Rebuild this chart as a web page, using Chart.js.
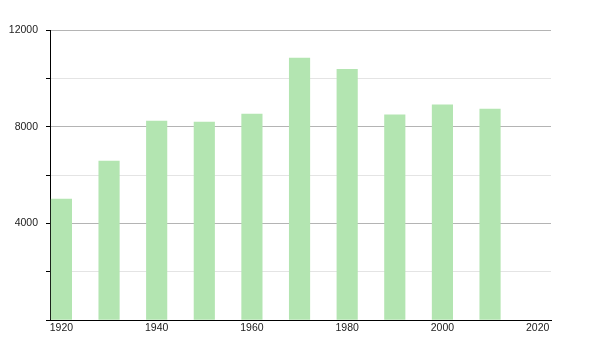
<!DOCTYPE html>
<html>
<head>
<meta charset="utf-8">
<script src="https://cdn.jsdelivr.net/npm/chart.js@4"></script>
<style>
html,body{margin:0;padding:0;background:#fff;}
#wrap{width:600px;height:350px;}
</style>
</head>
<body>
<div id="wrap"><canvas id="c" width="600" height="350"></canvas></div>
<script>
const years = [1920, 1930, 1940, 1950, 1960, 1970, 1980, 1990, 2000, 2010];
const population = [5000, 6580, 8235, 8190, 8525, 10840, 10375, 8485, 8900, 8730];
const xTickValues = [1920, 1940, 1960, 1980, 2000, 2020];

Chart.defaults.font.family = '"Liberation Sans", Arial, sans-serif';
Chart.defaults.font.size = 10.5;
Chart.defaults.color = '#222';

new Chart(document.getElementById('c'), {
  type: 'bar',
  data: {
    datasets: [{
      data: years.map((x, i) => ({x: x, y: population[i]})),
      backgroundColor: 'rgb(179,229,177)',
      borderWidth: 0,
      barThickness: 20.5
    }]
  },
  options: {
    responsive: false,
    animation: false,
    layout: {padding: {top: 30, right: 49, left: 0, bottom: 0}},
    plugins: {legend: {display: false}, tooltip: {enabled: false}},
    scales: {
      x: {
        type: 'linear',
        offset: false,
        min: 1917.6,
        max: 2022.8,
        afterBuildTicks: s => { s.ticks = xTickValues.map(v => ({value: v})); },
        afterFit: s => { s.height = 30; },
        grid: {display: false, drawTicks: false, offset: false},
        border: {color: '#000', width: 1},
        ticks: {padding: 2, maxRotation: 0, autoSkip: false, callback: v => String(v)}
      },
      y: {
        min: 0,
        max: 12000,
        afterFit: s => { s.width = 50; },
        border: {color: '#000', width: 1},
        grid: {
          color: ctx => (ctx.tick && ctx.tick.value % 4000 === 0) ? '#b4b4b4' : '#e4e4e4',
          tickColor: '#000',
          tickLength: 4
        },
        ticks: {
          stepSize: 2000,
          padding: 8,
          callback: v => (v % 4000 === 0 && v !== 0) ? String(v) : ''
        }
      }
    }
  }
});
</script>
</body>
</html>
